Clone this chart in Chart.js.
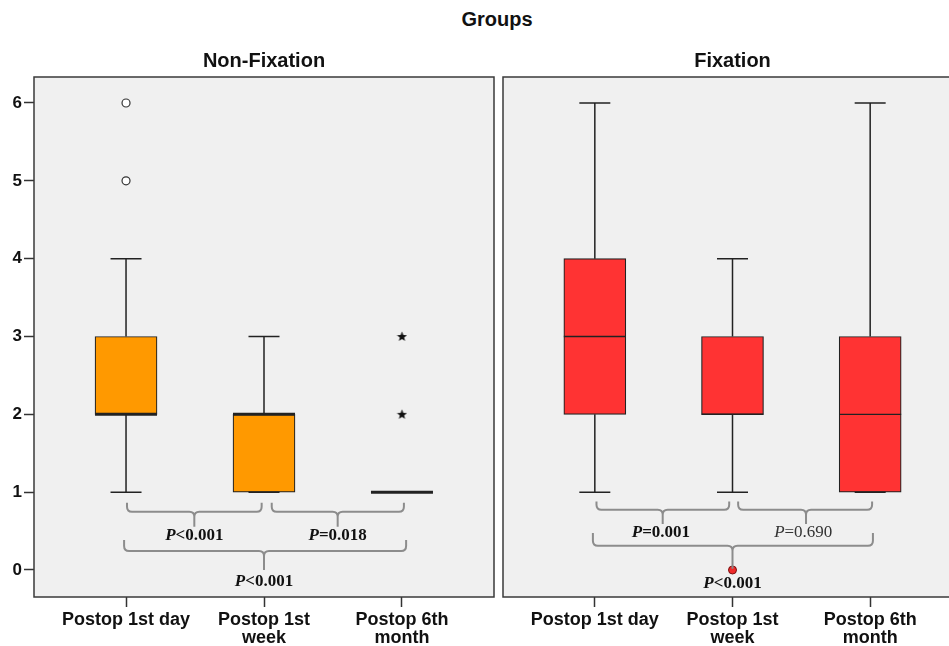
<!DOCTYPE html>
<html lang="en">
<head>
<meta charset="utf-8">
<title>Groups</title>
<script src="https://cdn.jsdelivr.net/npm/chart.js@4.4.1/dist/chart.umd.min.js"></script>
<style>
  html, body { margin: 0; padding: 0; background: #fff; overflow: hidden; }
  #wrap { position: relative; width: 949px; height: 646px; overflow: hidden; }
  #groups { position: absolute; left: 0; top: 8px; width: 994px; text-align: center;
            font: bold 20px "Liberation Sans", Arial, sans-serif; color: #111; }
  canvas { position: absolute; top: 0; }
</style>
</head>
<body>
<div id="wrap">
  <div id="groups">Groups</div>
  <canvas id="nonFix" width="500" height="646" style="left:0"></canvas>
  <canvas id="fix" width="470" height="646" style="left:498px"></canvas>
</div>

<script>
  // categories / ticks
  const tickLabels = ['Postop 1st day', ['Postop 1st', 'week'], ['Postop 6th', 'month']];
  const yTicks = [0, 1, 2, 3, 4, 5, 6];
  const panelTitles = ['Non-Fixation', 'Fixation'];

  // Non-Fixation boxes
  const nfMin = [1, 1, 1];
  const nfQ1 = [2, 1, 1];
  const nfMedian = [2, 2, 1];
  const nfQ3 = [3, 2, 1];
  const nfMax = [4, 3, 1];
  const nfOutX = [0, 0];          // circles
  const nfOutY = [5, 6];
  const nfExtX = [2, 2];          // stars
  const nfExtY = [2, 3];
  const nfPValues = ['<0.001', '=0.018', '<0.001'];

  // Fixation boxes
  const fxMin = [1, 1, 1];
  const fxQ1 = [2, 2, 1];
  const fxMedian = [3, 2, 2];
  const fxQ3 = [4, 3, 3];
  const fxMax = [6, 4, 6];
  const fxOutX = [1];
  const fxOutY = [0];
  const fxPValues = ['=0.001', '=0.690', '<0.001'];

  const SANS = '"Liberation Sans", Arial, sans-serif';
  const SERIF = '"Liberation Serif", "Times New Roman", serif';

  // small filled star used as point style for extremes
  const starImg = document.createElement('canvas');
  starImg.width = 11;
  starImg.height = 11;
  (function () {
    const c = starImg.getContext('2d');
    c.fillStyle = '#111';
    c.beginPath();
    for (let k = 0; k < 10; k++) {
      const r = k % 2 ? 2.3 : 5.3;
      const a = -Math.PI / 2 + k * Math.PI / 5;
      c.lineTo(5.5 + r * Math.cos(a), 5.8 + r * Math.sin(a));
    }
    c.closePath();
    c.fill();
  })();

  function drawP(ctx, cx, cy, rest, bold, color) {
    const w = bold ? 'bold ' : '';
    const fP = 'italic ' + w + '17px ' + SERIF;
    const fR = w + '17px ' + SERIF;
    ctx.font = fP;
    const wp = ctx.measureText('P').width;
    ctx.font = fR;
    const wr = ctx.measureText(rest).width;
    let x = cx - (wp + wr) / 2;
    ctx.fillStyle = color;
    ctx.textAlign = 'left';
    ctx.textBaseline = 'middle';
    ctx.font = fP;
    ctx.fillText('P', x, cy);
    ctx.font = fR;
    ctx.fillText(rest, x + wp, cy);
  }

  const boxPlugin = {
    id: 'boxplot',
    beforeDraw(chart) {
      const { ctx, chartArea: a } = chart;
      ctx.save();
      ctx.fillStyle = '#f0f0f0';
      ctx.fillRect(a.left, a.top, a.right - a.left, a.bottom - a.top);
      ctx.restore();
    },
    afterDatasetsDraw(chart, args, o) {
      const { ctx } = chart;
      const xs = chart.scales.x, ys = chart.scales.y;
      const bars = chart.getDatasetMeta(0).data;
      ctx.save();
      // whiskers, caps, medians
      ctx.strokeStyle = '#222';
      o.q1.forEach((q1, i) => {
        const cx = xs.getPixelForValue(i);
        const half = bars[i].width / 2;
        const cap = half / 2;
        ctx.lineWidth = 1.5;
        ctx.beginPath();
        if (o.max[i] > o.q3[i]) {
          ctx.moveTo(cx, ys.getPixelForValue(o.q3[i]));
          ctx.lineTo(cx, ys.getPixelForValue(o.max[i]));
        }
        if (o.min[i] < q1) {
          ctx.moveTo(cx, ys.getPixelForValue(q1));
          ctx.lineTo(cx, ys.getPixelForValue(o.min[i]));
        }
        ctx.moveTo(cx - cap, ys.getPixelForValue(o.max[i]));
        ctx.lineTo(cx + cap, ys.getPixelForValue(o.max[i]));
        ctx.moveTo(cx - cap, ys.getPixelForValue(o.min[i]));
        ctx.lineTo(cx + cap, ys.getPixelForValue(o.min[i]));
        ctx.stroke();
        ctx.lineWidth = o.medianWidth;
        ctx.beginPath();
        ctx.moveTo(cx - half, ys.getPixelForValue(o.median[i]));
        ctx.lineTo(cx + half, ys.getPixelForValue(o.median[i]));
        ctx.stroke();
      });
      // braces with p values
      ctx.strokeStyle = '#8c8c8c';
      ctx.lineWidth = 2;
      const c = 5;
      o.braces.forEach(b => {
        const x1 = xs.getPixelForValue(b.from), x2 = xs.getPixelForValue(b.to);
        const xm = xs.getPixelForValue(b.mid);
        const yt = ys.getPixelForValue(b.top), yl = ys.getPixelForValue(b.line);
        const yp = ys.getPixelForValue(b.tip);
        ctx.beginPath();
        ctx.moveTo(x1, yt);
        ctx.lineTo(x1, yl - c);
        ctx.quadraticCurveTo(x1, yl, x1 + c, yl);
        ctx.lineTo(xm - c, yl);
        ctx.quadraticCurveTo(xm, yl, xm, yl + c);
        ctx.lineTo(xm, yp);
        ctx.moveTo(xm, yl + c);
        ctx.quadraticCurveTo(xm, yl, xm + c, yl);
        ctx.lineTo(x2 - c, yl);
        ctx.quadraticCurveTo(x2, yl, x2, yl - c);
        ctx.lineTo(x2, yt);
        ctx.stroke();
        drawP(ctx, xs.getPixelForValue(b.tx), ys.getPixelForValue(b.ty), b.text, b.bold, b.bold ? '#111' : '#333');
      });
      ctx.restore();
    },
    afterDraw(chart, args, o) {
      const { ctx, chartArea: a } = chart;
      ctx.save();
      ctx.strokeStyle = '#3a3a3a';
      ctx.lineWidth = 1.5;
      ctx.strokeRect(a.left, a.top, a.right - a.left, a.bottom - a.top);
      ctx.fillStyle = '#111';
      ctx.font = 'bold 20px ' + SANS;
      ctx.textAlign = 'center';
      ctx.textBaseline = 'middle';
      ctx.fillText(o.title, (a.left + a.right) / 2, a.top - 16);
      ctx.restore();
    }
  };

  function makeScales(showY) {
    return {
      x: {
        type: 'linear', min: -0.667, max: 2.667, offset: false,
        afterBuildTicks: s => { s.ticks = tickLabels.map((_, i) => ({ value: i })); },
        afterFit: s => { s.height = 49; s.paddingLeft = 0; s.paddingRight = 0; },
        grid: { offset: false, drawOnChartArea: false, tickLength: 10, tickColor: '#333', tickWidth: 1.5 },
        border: { display: false },
        ticks: {
          autoSkip: false, maxRotation: 0, padding: 4, color: '#111',
          font: { family: SANS, size: 18, weight: 'bold', lineHeight: 1.0 },
          callback: v => tickLabels[v]
        }
      },
      y: {
        display: showY, min: -0.347, max: 6.334,
        afterBuildTicks: s => { s.ticks = yTicks.map(v => ({ value: v })); },
        afterFit: s => { s.width = showY ? 34 : 0; },
        grid: { drawOnChartArea: false, tickLength: 10, tickColor: '#333', tickWidth: 1.5 },
        border: { display: false },
        ticks: { padding: 2, color: '#111', font: { family: SANS, size: 17, weight: 'bold' } }
      }
    };
  }

  // Non-Fixation panel
  new Chart(document.getElementById('nonFix'), {
    type: 'bar',
    data: {
      datasets: [{
        type: 'bar',
        data: nfQ1.map((v, i) => ({ x: i, y: [v, nfQ3[i]] })),
        backgroundColor: '#ff9900',
        borderColor: '#222',
        borderWidth: 1.2,
        borderSkipped: false,
        barThickness: 62
      }, {
        type: 'scatter',
        data: nfOutX.map((x, i) => ({ x: x, y: nfOutY[i] })),
        pointStyle: 'circle', pointRadius: 4,
        backgroundColor: '#ffffff', borderColor: '#333', borderWidth: 1.2
      }, {
        type: 'scatter',
        data: nfExtX.map((x, i) => ({ x: x, y: nfExtY[i] })),
        pointStyle: starImg, pointRadius: 5
      }]
    },
    options: {
      responsive: false,
      animation: false,
      layout: { padding: { top: 77, right: 6, bottom: 0, left: 0 } },
      scales: makeScales(true),
      plugins: {
        legend: { display: false },
        tooltip: { enabled: false },
        boxplot: {
          title: panelTitles[0],
          min: nfMin, q1: nfQ1, median: nfMedian, q3: nfQ3, max: nfMax,
          medianWidth: 3,
          braces: [
            { from: 0.007, to: 0.983, mid: 0.495, top: 0.865, line: 0.749, tip: 0.556, tx: 0.495, ty: 0.437, text: nfPValues[0], bold: true },
            { from: 1.056, to: 2.014, mid: 1.534, top: 0.865, line: 0.749, tip: 0.556, tx: 1.534, ty: 0.437, text: nfPValues[1], bold: true },
            { from: -0.014, to: 2.03, mid: 1.0, top: 0.385, line: 0.244, tip: 0.0, tx: 1.0, ty: -0.15, text: nfPValues[2], bold: true }
          ]
        }
      }
    },
    plugins: [boxPlugin]
  });

  // Fixation panel
  new Chart(document.getElementById('fix'), {
    type: 'bar',
    data: {
      datasets: [{
        type: 'bar',
        data: fxQ1.map((v, i) => ({ x: i, y: [v, fxQ3[i]] })),
        backgroundColor: '#ff3333',
        borderColor: '#222',
        borderWidth: 1.2,
        borderSkipped: false,
        barThickness: 62
      }, {
        type: 'scatter',
        data: fxOutX.map((x, i) => ({ x: x, y: fxOutY[i] })),
        pointStyle: 'circle', pointRadius: 4,
        backgroundColor: '#ee2a2a', borderColor: '#7a1010', borderWidth: 1
      }]
    },
    options: {
      responsive: false,
      animation: false,
      layout: { padding: { top: 77, right: 6, bottom: 0, left: 1 } },
      scales: makeScales(false),
      plugins: {
        legend: { display: false },
        tooltip: { enabled: false },
        boxplot: {
          title: panelTitles[1],
          min: fxMin, q1: fxQ1, median: fxMedian, q3: fxQ3, max: fxMax,
          medianWidth: 1.3,
          braces: [
            { from: 0.012, to: 0.976, mid: 0.493, top: 0.88, line: 0.775, tip: 0.59, tx: 0.48, ty: 0.475, text: fxPValues[0], bold: true },
            { from: 1.041, to: 2.014, mid: 1.534, top: 0.88, line: 0.775, tip: 0.59, tx: 1.514, ty: 0.475, text: fxPValues[1], bold: false },
            { from: -0.014, to: 2.02, mid: 1.0, top: 0.475, line: 0.313, tip: 0.015, tx: 1.0, ty: -0.18, text: fxPValues[2], bold: true }
          ]
        }
      }
    },
    plugins: [boxPlugin]
  });
</script>
</body>
</html>
